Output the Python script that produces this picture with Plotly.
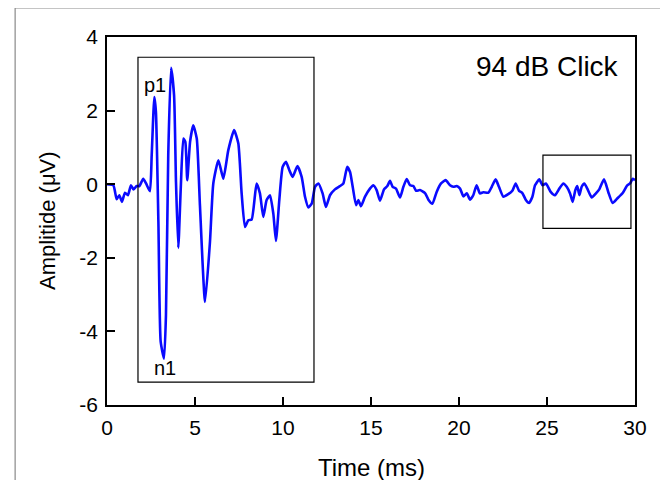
import plotly.graph_objects as go

# ABR waveform, 94 dB click
time_ms = [
    0.0, 0.36, 0.55, 0.70, 0.85, 1.02, 1.19, 1.36, 1.50, 1.69, 1.84, 2.06, 2.22, 2.44,
    2.54, 2.69, 2.78, 2.92, 3.05, 3.24, 3.35, 3.48, 3.64, 3.81, 3.92, 4.05, 4.19, 4.34,
    4.45, 4.56, 4.72, 4.90, 5.10, 5.28, 5.57, 5.85, 6.04, 6.33, 6.61, 6.89, 7.22, 7.46,
    7.65, 7.84, 8.03, 8.22, 8.50, 8.69, 8.88, 9.07, 9.26, 9.45, 9.60, 9.79, 9.98, 10.17,
    10.36, 10.55, 10.82, 11.06, 11.25, 11.44, 11.63, 11.82, 12.01, 12.25, 12.44, 12.67,
    12.95, 13.24, 13.43, 13.65, 13.81, 13.96, 14.15, 14.28, 14.43, 14.66, 14.94, 15.13,
    15.32, 15.51, 15.74, 15.93, 16.08, 16.23, 16.42, 16.65, 16.84, 17.03, 17.22, 17.41,
    17.56, 17.78, 18.07, 18.26, 18.49, 18.73, 18.98, 19.24, 19.49, 19.68, 19.87, 20.06,
    20.25, 20.44, 20.63, 20.81, 21.00, 21.19, 21.38, 21.67, 21.86, 22.08, 22.27, 22.52,
    22.80, 23.03, 23.22, 23.41, 23.60, 23.79, 23.98, 24.17, 24.32, 24.56, 24.75, 24.94,
    25.21, 25.45, 25.70, 25.93, 26.12, 26.31, 26.46, 26.61, 26.72, 26.84, 26.97, 27.12,
    27.29, 27.54, 27.78, 27.97, 28.24, 28.48, 28.73, 28.99, 29.30, 29.56, 29.72, 29.87,
    30.0,
]
amplitude_uv = [
    0.0, -0.03, -0.41, -0.30, -0.48, -0.23, -0.30, -0.03, -0.14, -0.05, -0.05, 0.15, 0.02, -0.19,
    0.79, 2.37, 1.96, -1.02, -4.28, -4.74, -3.56, 0.79, 3.16, 2.42, 0.06, -1.73, -0.12, 1.24,
    1.15, 0.11, 1.15, 1.60, 1.24, -0.57, -3.20, -1.57, 0.02, 0.65, 0.15, 0.92, 1.47, 1.11,
    -0.25, -1.16, -0.98, -0.96, 0.02, -0.25, -0.89, -0.43, -0.30, -0.80, -1.54, -0.43, 0.47, 0.61,
    0.38, 0.20, 0.49, 0.20, -0.34, -0.63, -0.53, -0.07, 0.02, -0.25, -0.62, -0.30,
    -0.14, -0.05, 0.02, 0.47, 0.33, -0.07, -0.57, -0.43, -0.60, -0.34, -0.12, -0.03,
    -0.16, -0.45, -0.14, -0.05, 0.09, -0.07, -0.12, -0.36, -0.07, 0.14, -0.03, -0.05,
    -0.18, -0.16, -0.24, -0.42, -0.53, -0.21, 0.02, 0.11, -0.03, -0.07, -0.05, -0.12,
    -0.33, -0.25, -0.42, -0.30, -0.03, -0.25, -0.22, -0.23, -0.07, 0.13, -0.07, -0.34,
    -0.27, -0.18, 0.02, -0.18, -0.24, -0.42, -0.51, -0.34, -0.03, 0.13, -0.03, 0.02,
    -0.21, -0.30, -0.12, 0.02, -0.07, -0.25, -0.48, -0.16, -0.05, -0.30, -0.07, 0.02,
    -0.12, -0.36, -0.25, -0.14, 0.13, -0.21, -0.51, -0.39, -0.24, -0.03, 0.02, 0.15,
    0.11,
]

x_ticks = [0, 5, 10, 15, 20, 25, 30]
y_ticks = [-6, -4, -2, 0, 2, 4]
y_ticktext = ["-6", "-4", "-2", "0", "2", "4"]   # plain hyphen, as in the original

FONT = "Liberation Sans, Arial, sans-serif"

fig = go.Figure(go.Scatter(
    x=time_ms,
    y=amplitude_uv,
    mode="lines",
    line=dict(color="#0a0aff", width=2.6, shape="spline", smoothing=0.5),
    showlegend=False,
))

# boxes marking the early response window and the noise window
fig.add_shape(type="rect", x0=1.76, x1=11.76, y0=-5.38, y1=3.45,
              line=dict(color="black", width=1.2))
fig.add_shape(type="rect", x0=24.77, x1=29.77, y0=-1.2, y1=0.79,
              line=dict(color="black", width=1.2))

# outer panel frame (only the left and top edges show)
fig.add_shape(type="rect", xref="paper", yref="paper",
              x0=-0.174, x1=1.3, y0=-0.4, y1=1.079,
              line=dict(color="#8a8a8a", width=1.2))

fig.add_annotation(x=29.2, y=3.2, text="94 dB Click", showarrow=False,
                   xanchor="right", yanchor="middle",
                   font=dict(size=28, color="black", family=FONT))
fig.add_annotation(x=2.75, y=2.7, text="p1", showarrow=False,
                   font=dict(size=20, color="black", family=FONT))
fig.add_annotation(x=3.3, y=-5.0, text="n1", showarrow=False,
                   font=dict(size=20, color="black", family=FONT))

# axis titles placed by hand
fig.add_annotation(xref="paper", yref="paper", x=0.5, y=-0.171,
                   text="Time (ms)", showarrow=False,
                   xanchor="center", yanchor="middle",
                   font=dict(size=24, color="black", family=FONT))
fig.add_annotation(xref="paper", yref="paper", x=-0.1136, y=0.5,
                   text="Amplitide (μV)", showarrow=False, textangle=-90,
                   xanchor="center", yanchor="middle",
                   font=dict(size=22, color="black", family=FONT))

axis_style = dict(
    showline=True, linecolor="black", linewidth=1.6, mirror=True,
    ticks="inside", ticklen=8, tickwidth=1.6, tickcolor="black",
    showgrid=False, zeroline=False, automargin=False,
    tickfont=dict(size=21, color="black", family=FONT),
    ticklabelstandoff=3,
)

fig.update_layout(
    width=660,
    height=472,
    margin=dict(l=99, r=33, t=29, b=75),
    paper_bgcolor="white",
    plot_bgcolor="white",
    xaxis=dict(range=[0, 30], tickvals=x_ticks, **axis_style),
    yaxis=dict(range=[-6, 4], tickvals=y_ticks, ticktext=y_ticktext, **axis_style),
)

fig.write_html("out.html")
